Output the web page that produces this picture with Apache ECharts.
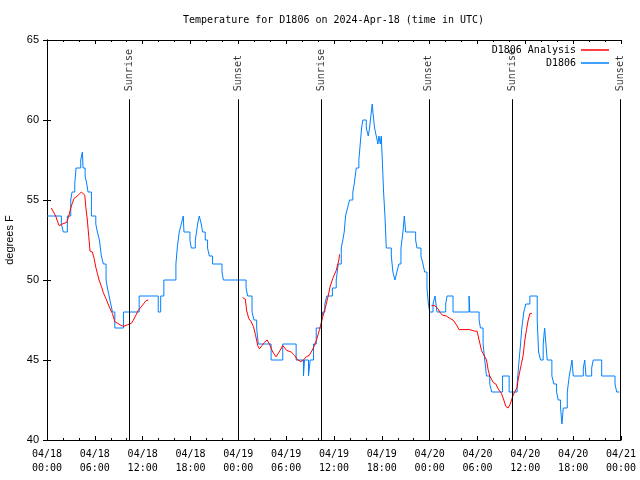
<!DOCTYPE html>
<html>
<head>
<meta charset="utf-8">
<script src="https://cdn.jsdelivr.net/npm/echarts@6/dist/echarts.min.js"></script>
<style>html,body{margin:0;padding:0;background:#fff}#c{width:640px;height:480px}</style>
</head>
<body>
<div id="c"></div>
<script>
// ---- data (x = hours since 2024-04-18 00:00 UTC, y = degrees F) ----
const titleText = 'Temperature for D1806 on 2024-Apr-18 (time in UTC)';
const xTickLabels = ['04/18\n00:00','04/18\n06:00','04/18\n12:00','04/18\n18:00',
  '04/19\n00:00','04/19\n06:00','04/19\n12:00','04/19\n18:00',
  '04/20\n00:00','04/20\n06:00','04/20\n12:00','04/20\n18:00','04/21\n00:00'];
const sunNames = ['Sunrise','Sunset','Sunrise','Sunset','Sunrise','Sunset'];
const sunHours = [10.3, 24.0, 34.4, 47.9, 58.4, 71.95];

const observed = [[0,54],[1.80,53.5],[2.05,53],[2.55,54],[2.98,55],[3.14,55.5],[3.48,56],[3.64,57],[4.23,57.5],[4.44,58],[4.52,57],[4.78,56.5],[4.99,56],[5.15,55.5],[5.57,54],[6.12,53.5],[6.32,53],[6.57,52.5],[6.82,51.5],[7.07,51],[7.41,50],[7.58,49.5],[7.79,49],[8.00,48.5],[8.21,48],[8.51,47],[9.59,48],[11.56,49],[13.95,48],[14.26,49],[14.66,50],[16.17,51],[16.34,52],[16.59,53],[16.84,53.5],[17.09,54],[17.18,53],[17.93,52.5],[18.10,52],[18.60,52.5],[18.76,53],[18.89,53.5],[19.10,54],[19.35,53.5],[19.52,53],[19.85,52.5],[20.14,52],[20.36,51.5],[20.77,51],[21.95,50.5],[22.12,50],[24.97,49.5],[25.17,49],[25.72,48],[25.97,47.5],[26.30,47],[26.50,46],[28.11,45],[29.57,46],[31.25,45],[32.17,44],[32.30,45],[32.80,44],[33.01,45],[33.43,46],[33.77,47],[34.43,47.5],[34.59,48],[34.85,48.5],[35.10,49],[35.80,49.5],[36.28,50],[36.53,51],[36.91,52],[37.11,52.5],[37.28,53],[37.45,54],[37.70,54.5],[37.95,55],[38.36,55.5],[38.54,56],[38.79,57],[39.12,57.5],[39.29,58.5],[39.46,59.5],[39.62,60],[40.05,59.5],[40.30,59],[40.46,59.5],[40.68,60.5],[40.80,61],[40.88,60.5],[41.09,59.5],[41.30,59],[41.51,58.5],[41.63,59],[41.81,58.5],[41.93,59],[42.06,57.5],[42.22,55.5],[42.39,54],[42.56,52],[43.19,51.5],[43.39,50.5],[43.64,50],[43.89,50.5],[44.14,51],[44.40,52],[44.65,53],[44.82,54],[44.99,53],[46.24,52.5],[46.41,52],[46.91,51.5],[47.16,51],[47.37,50.5],[47.66,49.5],[47.84,48.5],[48.00,48],[48.42,48.5],[48.67,49],[48.92,48],[50.01,48.5],[50.18,49],[50.93,48],[52.94,49],[53.03,48],[54.20,47.5],[54.37,47],[54.70,46],[54.91,45],[55.13,44],[55.54,43.5],[55.79,43],[57.14,44],[57.97,43],[58.97,43.5],[59.22,45],[59.40,46],[59.56,47],[59.81,48],[60.06,48.5],[60.57,49],[61.49,47.5],[61.66,45.5],[61.91,45],[62.24,46],[62.42,47],[62.58,46],[62.74,45],[63.33,44],[63.58,43.5],[63.92,43],[64.12,42.5],[64.42,42],[64.59,41],[64.76,42],[65.26,43],[65.51,44],[65.69,44.5],[65.85,45],[66.01,44],[67.27,44.5],[67.45,45],[67.61,44],[68.32,44.5],[68.52,45],[69.58,44],[71.25,43.5],[71.46,43],[71.79,43]];

const analysis1 = [[0.54,54.5],[0.79,54.4],[1.09,54.0],[1.29,53.7],[1.51,53.4],[1.92,53.5],[2.48,53.6],[2.76,54.05],[2.98,54.5],[3.18,54.8],[3.39,55.1],[3.81,55.25],[4.31,55.5],[4.56,55.5],[4.74,55.3],[4.86,54.6],[5.06,53.75],[5.24,52.7],[5.40,51.8],[5.69,51.75],[5.91,51.35],[6.12,50.8],[6.32,50.4],[6.53,50.0],[6.82,49.6],[7.07,49.2],[7.38,48.85],[7.67,48.5],[7.92,48.2],[8.21,47.9],[8.51,47.4],[8.83,47.3],[9.17,47.2],[9.59,47.1],[10.09,47.2],[10.59,47.3],[10.84,47.5],[11.15,47.8],[11.44,48.1],[11.77,48.3],[12.10,48.5],[12.40,48.7],[12.69,48.75]];
const analysis2 = [[24.54,48.9],[24.88,48.8],[25.04,48.1],[25.30,47.6],[25.60,47.4],[25.89,47.1],[26.14,46.6],[26.43,45.9],[26.64,45.7],[26.98,45.9],[27.27,46.1],[27.61,46.25],[27.90,46.0],[28.31,45.5],[28.74,45.2],[28.94,45.2],[29.24,45.6],[29.57,45.9],[29.78,45.85],[30.07,45.6],[30.62,45.5],[31.04,45.3],[31.45,45.0],[31.88,44.9],[32.17,45.0],[32.51,45.2],[32.92,45.3],[33.26,45.6],[33.55,45.9],[33.84,46.3],[34.18,46.9],[34.39,47.3],[34.59,47.7],[34.93,48.3],[35.22,48.9],[35.52,49.6],[35.85,50.1],[36.28,50.6],[36.61,51.25],[36.69,51.6]];
const analysis3 = [[48.22,48.4],[48.63,48.4],[49.05,48.2],[49.26,48.0],[49.60,47.8],[50.10,47.75],[50.52,47.6],[50.93,47.5],[51.36,47.2],[51.68,46.9],[53.03,46.9],[53.66,46.8],[53.95,46.8],[54.20,46.25],[54.50,45.6],[54.70,45.4],[54.91,45.3],[55.13,45.0],[55.33,44.4],[55.54,44.0],[55.76,43.8],[55.96,43.6],[56.30,43.5],[56.59,43.2],[57.01,42.9],[57.30,42.5],[57.55,42.1],[57.84,42.0],[58.06,42.2],[58.27,42.5],[58.47,42.8],[58.69,42.9],[58.97,43.3],[59.09,43.75],[59.31,44.3],[59.52,44.8],[59.73,45.3],[59.94,46.25],[60.15,46.9],[60.36,47.5],[60.57,47.9],[60.82,47.9]];

// ---- chart ----
const FONT = 'DejaVu Sans Mono';
const SANS = 'Liberation Sans';
const RED = '#ff0000', BLUE = '#0080ff';
const chart = echarts.init(document.getElementById('c'), null, {renderer: 'canvas'});

function redSeries(d) {
  return {name: 'D1806 Analysis', type: 'line', data: d, showSymbol: false, symbol: 'none',
    lineStyle: {color: RED, width: 1}, itemStyle: {color: RED}, z: 4, silent: true, animation: false};
}

const axisCommon = {
  axisLine: {show: true, lineStyle: {color: '#000', width: 1}},
  splitLine: {show: false},
};

chart.setOption({
  animation: false,
  backgroundColor: '#fff',
  title: {text: titleText, left: 183, top: 15, padding: 0,
    textStyle: {fontFamily: FONT, fontSize: 10, fontWeight: 'normal', color: '#000'}},
  grid: {left: 47, right: 19, top: 40, bottom: 40, containLabel: false, outerBoundsMode: 'none'},
  legend: {
    data: ['D1806 Analysis', 'D1806'], orient: 'vertical', right: 26, top: 40,
    align: 'right', icon: 'rect', itemWidth: 28, itemHeight: 1.5, itemGap: 3,
    textStyle: {fontFamily: FONT, fontSize: 10, color: '#000', padding: [0, 0, 0, 0]},
    selectedMode: false
  },
  xAxis: [
    Object.assign({}, axisCommon, {
      type: 'value', min: 0, max: 72, interval: 6,
      axisTick: {show: true, inside: true, length: 4, lineStyle: {color: '#000'}},
      minorTick: {show: true, splitNumber: 3, length: 2, lineStyle: {color: '#000'}},
      axisLabel: {formatter: v => xTickLabels[Math.round(v / 6)], fontFamily: FONT, fontSize: 10,
        color: '#000', lineHeight: 14, margin: 7, showMinLabel: true, showMaxLabel: true, hideOverlap: false}
    }),
    Object.assign({}, axisCommon, {
      type: 'value', min: 0, max: 72, interval: 6, position: 'top',
      axisTick: {show: true, inside: true, length: 4, lineStyle: {color: '#000'}},
      minorTick: {show: true, splitNumber: 3, length: 2, lineStyle: {color: '#000'}},
      axisLabel: {show: false}
    })
  ],
  yAxis: [
    Object.assign({}, axisCommon, {
      type: 'value', min: 40, max: 65, interval: 5,
      name: 'degrees F', nameLocation: 'middle', nameGap: 30, nameRotate: 90,
      nameTextStyle: {fontFamily: SANS, fontSize: 11, color: '#000'},
      axisTick: {show: true, inside: true, length: 4, lineStyle: {color: '#000'}},
      axisLabel: {fontFamily: SANS, fontSize: 11, color: '#000', margin: 8}
    }),
    Object.assign({}, axisCommon, {
      type: 'value', min: 40, max: 65, interval: 5, position: 'right',
      axisTick: {show: true, inside: true, length: 4, lineStyle: {color: '#000'}},
      axisLabel: {show: false}
    })
  ],
  series: [
    {
      name: 'sun', type: 'scatter', symbolSize: 0, silent: true, z: 2,
      data: sunHours.map((h, i) => ({value: [h, 61.8], name: sunNames[i]})),
      label: {show: true, formatter: p => p.name, rotate: 90, position: 'inside', align: 'left',
        verticalAlign: 'middle', offset: [0, 0], fontFamily: FONT, fontSize: 10, color: '#000'},
      markLine: {
        silent: true, symbol: 'none', animation: false,
        lineStyle: {color: '#000', width: 1, type: 'solid'},
        label: {show: false},
        data: sunHours.map(h => [{coord: [h, 61.3]}, {coord: [h, 40]}])
      }
    },
    redSeries(analysis1), redSeries(analysis2), redSeries(analysis3),
    {name: 'D1806', type: 'line', data: observed, step: 'end', showSymbol: false, symbol: 'none',
      lineStyle: {color: BLUE, width: 1}, itemStyle: {color: BLUE}, z: 3, silent: true}
  ]
});
</script>
</body>
</html>
